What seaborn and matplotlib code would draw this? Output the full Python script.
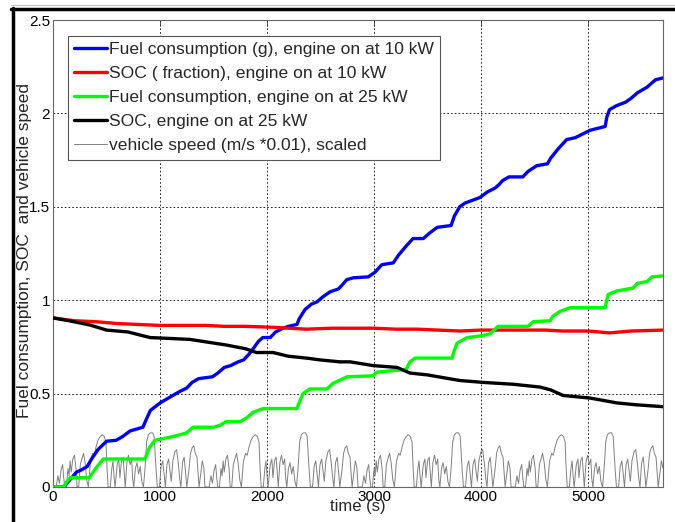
import matplotlib
matplotlib.use("Agg")
import matplotlib.pyplot as plt
from matplotlib.lines import Line2D
import numpy as np
import pandas as pd
import seaborn as sns

# ---------------- data ----------------
fuel10_t = [0, 100, 160, 220, 260, 320, 360, 420, 500, 590, 650, 720, 780, 840, 870, 910,
            1000, 1060, 1120, 1180, 1250, 1300, 1360, 1490, 1540, 1600, 1660, 1730, 1780,
            1830, 1870, 1920, 1960, 2030, 2080, 2150, 2200, 2280, 2300, 2355, 2417, 2464,
            2526, 2589, 2667, 2700, 2745, 2807, 2947, 3009, 3072, 3180, 3227, 3300, 3364,
            3460, 3520, 3590, 3720, 3750, 3800, 3850, 3990, 4060, 4130, 4170, 4200, 4260,
            4390, 4440, 4520, 4620, 4650, 4720, 4800, 4880, 4950, 5020, 5160, 5175, 5200,
            5260, 5350, 5400, 5460, 5550, 5590, 5630, 5700]
fuel10_v = [0, 0, 0.04, 0.08, 0.09, 0.11, 0.15, 0.20, 0.245, 0.25, 0.27, 0.30, 0.31, 0.32,
            0.36, 0.41, 0.45, 0.47, 0.49, 0.51, 0.53, 0.56, 0.58, 0.59, 0.61, 0.64, 0.65,
            0.67, 0.68, 0.71, 0.74, 0.78, 0.80, 0.80, 0.83, 0.85, 0.86, 0.87, 0.90, 0.95,
            0.98, 0.99, 1.02, 1.045, 1.06, 1.08, 1.11, 1.12, 1.125, 1.15, 1.19, 1.20, 1.24,
            1.29, 1.33, 1.33, 1.36, 1.39, 1.40, 1.45, 1.50, 1.52, 1.55, 1.58, 1.60, 1.62,
            1.64, 1.66, 1.66, 1.69, 1.72, 1.73, 1.76, 1.81, 1.86, 1.87, 1.89, 1.91, 1.93,
            1.98, 2.02, 2.04, 2.06, 2.08, 2.11, 2.14, 2.16, 2.18, 2.19]

soc10_t = [0, 200, 400, 500, 600, 800, 1000, 1200, 1430, 1600, 1800, 2060, 2200, 2370,
           2600, 2776, 3000, 3200, 3400, 3600, 3804, 4000, 4200, 4400, 4600, 4766, 5000,
           5200, 5400, 5700]
soc10_v = [0.905, 0.89, 0.885, 0.88, 0.875, 0.87, 0.865, 0.865, 0.865, 0.86, 0.86, 0.855,
           0.85, 0.845, 0.85, 0.85, 0.85, 0.845, 0.845, 0.84, 0.835, 0.84, 0.84, 0.84,
           0.84, 0.835, 0.835, 0.825, 0.835, 0.84]

fuel25_t = [0, 100, 131, 160, 340, 400, 470, 860, 900, 953, 1121, 1250, 1308, 1500, 1560,
            1620, 1750, 1810, 1870, 1963, 2280, 2300, 2336, 2400, 2560, 2617, 2748, 2990,
            3028, 3215, 3300, 3336, 3383, 3729, 3750, 3776, 3869, 4009, 4084, 4159, 4439,
            4486, 4645, 4673, 4738, 4832, 5159, 5187, 5271, 5421, 5458, 5551, 5598, 5700]
fuel25_v = [0, 0, 0.03, 0.05, 0.05, 0.10, 0.15, 0.15, 0.21, 0.25, 0.27, 0.29, 0.32, 0.32,
            0.33, 0.35, 0.35, 0.37, 0.40, 0.42, 0.42, 0.45, 0.50, 0.525, 0.525, 0.555, 0.59,
            0.595, 0.615, 0.625, 0.63, 0.67, 0.69, 0.69, 0.73, 0.77, 0.80, 0.81, 0.82, 0.86,
            0.86, 0.885, 0.89, 0.915, 0.94, 0.96, 0.96, 1.03, 1.05, 1.065, 1.09, 1.10, 1.125,
            1.13]

soc25_t = [0, 150, 346, 500, 700, 907, 1100, 1280, 1450, 1620, 1800, 1900, 2056, 2200,
           2370, 2500, 2680, 2776, 2990, 3215, 3336, 3500, 3650, 3804, 4019, 4300, 4551,
           4650, 4766, 5019, 5271, 5450, 5700]
soc25_v = [0.905, 0.89, 0.867, 0.84, 0.83, 0.80, 0.795, 0.79, 0.775, 0.76, 0.74, 0.72,
           0.72, 0.70, 0.69, 0.68, 0.67, 0.67, 0.65, 0.64, 0.61, 0.60, 0.585, 0.57, 0.56,
           0.55, 0.535, 0.52, 0.49, 0.476, 0.45, 0.44, 0.43]

# one drive cycle of the (scaled) vehicle speed, repeated four times in the run
cycle_t = [0, 30, 45, 60, 75, 90, 100, 110, 125, 140, 150, 160, 170, 185, 200, 215, 225,
           240, 255, 270, 285, 300, 315, 330, 350, 370, 385, 400, 420, 440, 460, 480, 495,
           505, 515, 535, 550, 560, 570, 580, 600, 615, 625, 640, 655, 665, 675, 690, 705,
           720, 735, 745, 755, 770, 785, 800, 815, 830, 845, 860, 875, 890, 910, 930, 945,
           960, 975, 995, 1010, 1025, 1040, 1050, 1065, 1080, 1095, 1105, 1120, 1140, 1155,
           1170, 1185, 1195, 1210, 1225, 1240, 1250, 1270, 1285, 1300, 1315, 1330, 1345,
           1355, 1365, 1380, 1395, 1410, 1420]
cycle_v = [0, 0, 0.06, 0.02, 0.09, 0.12, 0.05, 0, 0, 0.10, 0.06, 0.14, 0.08, 0.15, 0.17,
           0.10, 0, 0, 0.12, 0.15, 0.18, 0.13, 0.04, 0, 0.14, 0.18, 0.17, 0.21, 0.25, 0.27,
           0.28, 0.27, 0.24, 0.10, 0, 0, 0.10, 0.14, 0.06, 0, 0.12, 0.15, 0.05, 0.14, 0.16,
           0.08, 0, 0.13, 0.17, 0.12, 0.15, 0.04, 0, 0.10, 0.13, 0.07, 0.11, 0.03, 0, 0.10,
           0.24, 0.28, 0.29, 0.29, 0.27, 0.12, 0, 0, 0.11, 0.14, 0.06, 0, 0.12, 0.15, 0.08,
           0.03, 0.14, 0.19, 0.20, 0.13, 0.04, 0, 0.13, 0.16, 0.07, 0, 0.09, 0.18, 0.21,
           0.22, 0.18, 0.16, 0.08, 0, 0.07, 0.14, 0.10, 0]
cycle_starts = [0, 1430, 2860, 4290]
t_end = 5700

speed_t, speed_v = [], []
for s in cycle_starts:
    for ct, cv in zip(cycle_t, cycle_v):
        if s + ct <= t_end:
            speed_t.append(s + ct)
            speed_v.append(cv)

labels = ["Fuel consumption (g), engine on at 10 kW",
          "SOC ( fraction), engine on at 10 kW",
          "Fuel consumption, engine on at 25 kW",
          "SOC, engine on at 25 kW",
          "vehicle speed (m/s *0.01), scaled"]
xticks = [0, 1000, 2000, 3000, 4000, 5000]
yticks = [0, 0.5, 1, 1.5, 2, 2.5]
ytick_labels = ["0", "0.5", "1", "1.5", "2", "2.5"]

# ---------------- plot ----------------
sns.set_style("white")
plt.rcParams["font.family"] = ["Liberation Sans", "DejaVu Sans"]

W, H = 675, 522
fig = plt.figure(figsize=(W / 100, H / 100), dpi=100)
ax = fig.add_axes([53 / W, 1 - 487 / H, 610 / W, 467 / H])

series = [
    (fuel10_t, fuel10_v, "#0000ff", 2.4, labels[0]),
    (soc10_t, soc10_v, "#ff0000", 2.4, labels[1]),
    (fuel25_t, fuel25_v, "#00ff00", 2.4, labels[2]),
    (soc25_t, soc25_v, "#000000", 2.4, labels[3]),
]
for t, v, c, lw, lab in series:
    sns.lineplot(x=t, y=v, ax=ax, color=c, linewidth=lw, label=lab,
                 estimator=None, sort=False, zorder=3)
sns.lineplot(x=speed_t, y=speed_v, ax=ax, color="#808080", linewidth=0.7,
             label=labels[4], estimator=None, sort=False, zorder=2)

ax.set_xlim(0, 5700)
ax.set_ylim(0, 2.5)
ax.set_xticks(xticks)
ax.set_xticklabels([str(x) for x in xticks])
ax.set_yticks(yticks)
ax.set_yticklabels(ytick_labels)
ax.grid(True, color="black", linestyle=(0, (2, 2.5)), linewidth=0.6)
ax.set_axisbelow(True)
ax.tick_params(axis="both", direction="in", length=4, width=0.6, colors="#333333",
               labelcolor="black", labelsize=11, top=True, right=True, pad=2)
for sp in ax.spines.values():
    sp.set_color("#666666")
    sp.set_linewidth(0.8)

ax.set_xlabel("time (s)", fontsize=12)
ax.xaxis.set_label_coords(0.5, -20 / 467)
ax.xaxis.label.set_va("center")
ax.set_ylabel("Fuel consumption, SOC  and vehicle speed", fontsize=12.5)
ax.yaxis.set_label_coords(-28 / 610, (487 - 250) / 467)
ax.yaxis.label.set_va("center")

leg = ax.legend(loc="upper left", bbox_to_anchor=(15 / 610, (487 - 36) / 467),
                frameon=True, fancybox=False, framealpha=1, edgecolor="#555555",
                fontsize=12.6, handlelength=1.9, handletextpad=0.1, labelspacing=0.5,
                borderpad=0.35, borderaxespad=0)
leg.get_frame().set_linewidth(0.8)

# screenshot frame around the figure
fig.add_artist(Line2D([12.5 / W, 12.5 / W], [0, 1 - 8 / H], transform=fig.transFigure,
                      color="black", linewidth=2.5))
fig.add_artist(Line2D([11 / W, 1], [1 - 8.5 / H, 1 - 8.5 / H], transform=fig.transFigure,
                      color="black", linewidth=2.5))
fig.add_artist(Line2D([11 / W, 1], [1 - 5 / H, 1 - 5 / H], transform=fig.transFigure,
                      color="#c0c0c0", linewidth=0.8))

fig.savefig("out.png", dpi=100)
